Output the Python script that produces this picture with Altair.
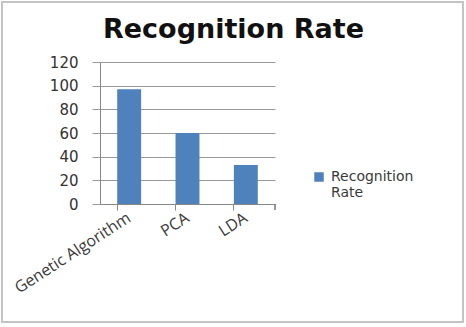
import altair as alt
import pandas as pd

categories = ["Genetic Algorithm", "PCA", "LDA"]
values = [97, 60, 33]
series_name = "Recognition Rate"
y_ticks = [0, 20, 40, 60, 80, 100, 120]

df = pd.DataFrame({"method": categories, "rate": values, "series": [series_name] * len(categories)})

W, H = 175, 142

bars = alt.Chart(df).mark_bar(color="#4f81bd").encode(
    x=alt.X("method:N", sort=categories, title=None,
            scale=alt.Scale(paddingInner=0.59, paddingOuter=0.295),
            axis=alt.Axis(labelAngle=-33, labelAlign="right", labelBaseline="middle",
                          labelFont="Open Sans", labelFontSize=16, labelColor="#3a3a3a",
                          labelPadding=6, bandPosition=0, tickSize=6, tickColor="#888888",
                          domainColor="#888888", grid=False, labelOverlap=False)),
    y=alt.Y("rate:Q", title=None,
            scale=alt.Scale(domain=[0, 120], nice=False),
            axis=alt.Axis(values=y_ticks, labelFont="DejaVu Sans", labelFontSize=15,
                          labelColor="#333333", labelPadding=14, tickSize=8,
                          tickColor="#999999", domainColor="#888888",
                          gridColor="#999999", grid=True)),
    color=alt.Color("series:N", title=None,
                    scale=alt.Scale(range=["#4f81bd"]),
                    legend=alt.Legend(orient="none", legendX=212, legendY=108,
                                      symbolType="square", symbolSize=90,
                                      labelFont="DejaVu Sans", labelFontSize=14,
                                      labelColor="#3a3a3a",
                                      labelExpr="['Recognition', 'Rate']",
                                      labelBaseline="middle", labelOffset=5)),
)

last_tick = alt.Chart(df).mark_rule(color="#888888").encode(
    x=alt.value(W), y=alt.value(H), y2=alt.value(H + 6)
)

frame = alt.Chart(df).mark_rect(fill=None, stroke="#c4c4c4", strokeWidth=2).encode(
    x=alt.value(-98), x2=alt.value(363), y=alt.value(-60), y2=alt.value(260)
)

chart = alt.layer(frame, bars, last_tick).properties(
    width=W, height=H,
    title=alt.TitleParams(series_name, font="DejaVu Sans", fontSize=27, fontWeight="bold",
                          color="#111111", anchor="middle", dx=46, offset=-43),
    autosize=alt.AutoSizeParams(type="none"),
    padding={"left": 100, "top": 62, "right": 191, "bottom": 123},
).configure_view(stroke=None)

chart.save("out.html", embed_options={"renderer": "svg", "actions": False})
